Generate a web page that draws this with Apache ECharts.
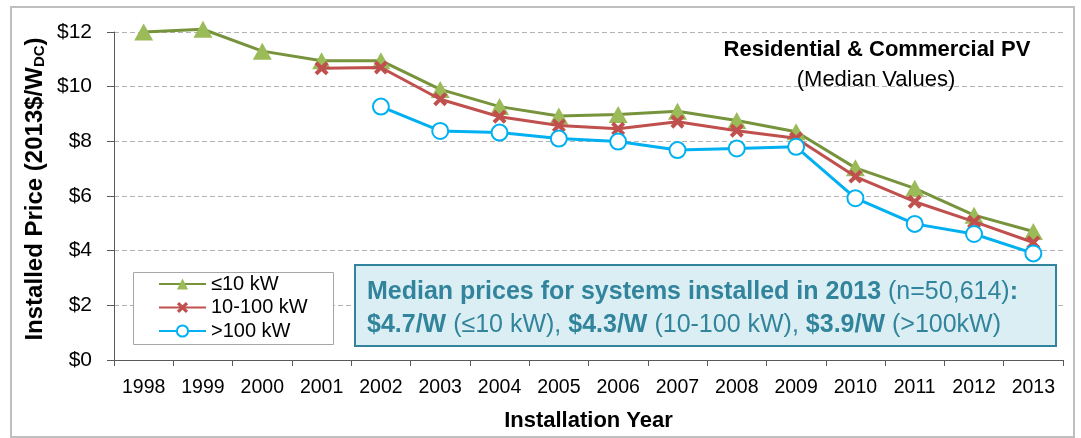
<!DOCTYPE html>
<html>
<head>
<meta charset="utf-8">
<script src="https://cdn.jsdelivr.net/npm/echarts@6/dist/echarts.min.js"></script>
<style>
html,body{margin:0;padding:0;background:#fff;}
#chart{width:1081px;height:438px;}
</style>
</head>
<body>
<div id="chart"></div>
<script>
const years = ['1998','1999','2000','2001','2002','2003','2004','2005','2006','2007','2008','2009','2010','2011','2012','2013'];
const small = [12.0, 12.1, 11.3, 10.95, 10.95, 9.9, 9.27, 8.93, 8.98, 9.1, 8.76, 8.35, 7.03, 6.28, 5.3, 4.7];
const medium = [null, null, null, 10.67, 10.7, 9.54, 8.9, 8.58, 8.46, 8.72, 8.39, 8.11, 6.71, 5.79, 5.06, 4.3];
const large = [null, null, null, null, 9.27, 8.38, 8.32, 8.1, 7.99, 7.68, 7.74, 7.8, 5.92, 4.98, 4.61, 3.9];
const seriesNames = ['≤10 kW', '10-100 kW', '>100 kW'];
const yTickValues = [0, 2, 4, 6, 8, 10, 12];

const FONT = "'Liberation Sans', Arial, sans-serif";
const TEAL = '#31849b';
const xPath = 'path://M2,0 L5,3 L8,0 L10,2 L7,5 L10,8 L8,10 L5,7 L2,10 L0,8 L3,5 L0,2 Z';

const chart = echarts.init(document.getElementById('chart'), null, {renderer: 'canvas'});
chart.setOption({
  animation: false,
  backgroundColor: '#ffffff',
  grid: {left: 114, right: 18, top: 32, bottom: 78, containLabel: false},
  xAxis: {
    type: 'category',
    data: years,
    boundaryGap: true,
    name: 'Installation Year',
    nameLocation: 'middle',
    nameGap: 50,
    nameTextStyle: {fontFamily: FONT, fontSize: 22, fontWeight: 'bold', color: '#000'},
    axisLine: {lineStyle: {color: '#595959', width: 1}},
    axisTick: {show: true, alignWithLabel: false, length: 6, lineStyle: {color: '#595959'}},
    axisLabel: {fontFamily: FONT, fontSize: 19.5, color: '#000', margin: 18, interval: 0}
  },
  yAxis: {
    type: 'value',
    min: 0, max: 12, interval: 2,
    axisLine: {show: true, lineStyle: {color: '#595959', width: 1}},
    axisTick: {show: true, length: 7, lineStyle: {color: '#595959'}},
    axisLabel: {fontFamily: FONT, fontSize: 21, color: '#000', margin: 22,
      formatter: v => yTickValues.indexOf(v) >= 0 ? '$' + v : ''},
    splitLine: {show: true, lineStyle: {color: '#b3b3b3', type: [5, 3], width: 1}}
  },
  legend: {
    show: true,
    orient: 'vertical',
    left: 133, top: 272,
    padding: [2, 0, 2, 25],
    itemWidth: 47, itemHeight: 14, itemGap: 3.5,
    textStyle: {fontFamily: FONT, fontSize: 20, color: '#000', lineHeight: 20},
    data: seriesNames,
    z: 6
  },
  series: [
    {
      name: seriesNames[0], type: 'line', data: small, clip: false,
      symbol: 'triangle', symbolSize: [19, 17],
      lineStyle: {color: '#77933c', width: 3},
      itemStyle: {color: '#9bbb59', borderColor: '#9bbb59', borderWidth: 0},
      z: 2
    },
    {
      name: seriesNames[1], type: 'line', data: medium, clip: false,
      symbol: xPath, symbolSize: 14,
      lineStyle: {color: '#c0504d', width: 3},
      itemStyle: {color: '#c0504d', borderColor: '#c0504d', borderWidth: 0},
      z: 3
    },
    {
      name: seriesNames[2], type: 'line', data: large, clip: false,
      symbol: 'emptyCircle', symbolSize: 16,
      lineStyle: {color: '#00b0f0', width: 3},
      itemStyle: {color: '#00b0f0', borderColor: '#00b0f0', borderWidth: 2.5},
      z: 4
    }
  ],
  graphic: [
    {type: 'rect', shape: {x: 11, y: 7, width: 1063, height: 430},
      style: {fill: 'none', stroke: '#bfbfbf', lineWidth: 2}, z: 0, silent: true},
    {type: 'rect', shape: {x: 133.5, y: 272.5, width: 200, height: 72},
      style: {fill: '#ffffff', stroke: '#a6a6a6', lineWidth: 1}, z: 5, silent: true},
    {type: 'rect', shape: {x: 355, y: 265, width: 701, height: 81},
      style: {fill: '#daeef3', stroke: TEAL, lineWidth: 2}, z: 5, silent: true},
    {type: 'text', left: 367, top: 280, z: 6, silent: true,
      style: {
        text: '{b|Median prices for systems installed in 2013 }{n|(n=50,614)}{b|:}\n' +
              '{b|$4.7/W}{n| (≤10 kW), }{b|$4.3/W}{n| (10-100 kW), }{b|$3.9/W}{n| (>100kW)}',
        rich: {
          b: {fontFamily: FONT, fontSize: 25, fontWeight: 'bold', fill: TEAL, lineHeight: 33},
          n: {fontFamily: FONT, fontSize: 25, fontWeight: 'normal', fill: TEAL, lineHeight: 33}
        }
      }
    },
    {type: 'text', x: 877, y: 50, z: 6, silent: true,
      style: {text: 'Residential & Commercial PV', fontFamily: FONT, fontSize: 22, fontWeight: 'bold',
        fill: '#000', textAlign: 'center', textVerticalAlign: 'middle'}},
    {type: 'text', x: 876, y: 80, z: 6, silent: true,
      style: {text: '(Median Values)', fontFamily: FONT, fontSize: 22,
        fill: '#000', textAlign: 'center', textVerticalAlign: 'middle'}},
    {type: 'text', x: 33, y: 189, rotation: Math.PI / 2, z: 6, silent: true,
      style: {
        text: '{a|Installed Price (2013$/W}{s|DC}{a|)}',
        textAlign: 'center', textVerticalAlign: 'middle',
        rich: {
          a: {fontFamily: FONT, fontSize: 24, fontWeight: 'bold', fill: '#000', verticalAlign: 'bottom', lineHeight: 28},
          s: {fontFamily: FONT, fontSize: 15, fontWeight: 'bold', fill: '#000', verticalAlign: 'bottom', lineHeight: 22}
        }
      }
    }
  ]
});
</script>
</body>
</html>
